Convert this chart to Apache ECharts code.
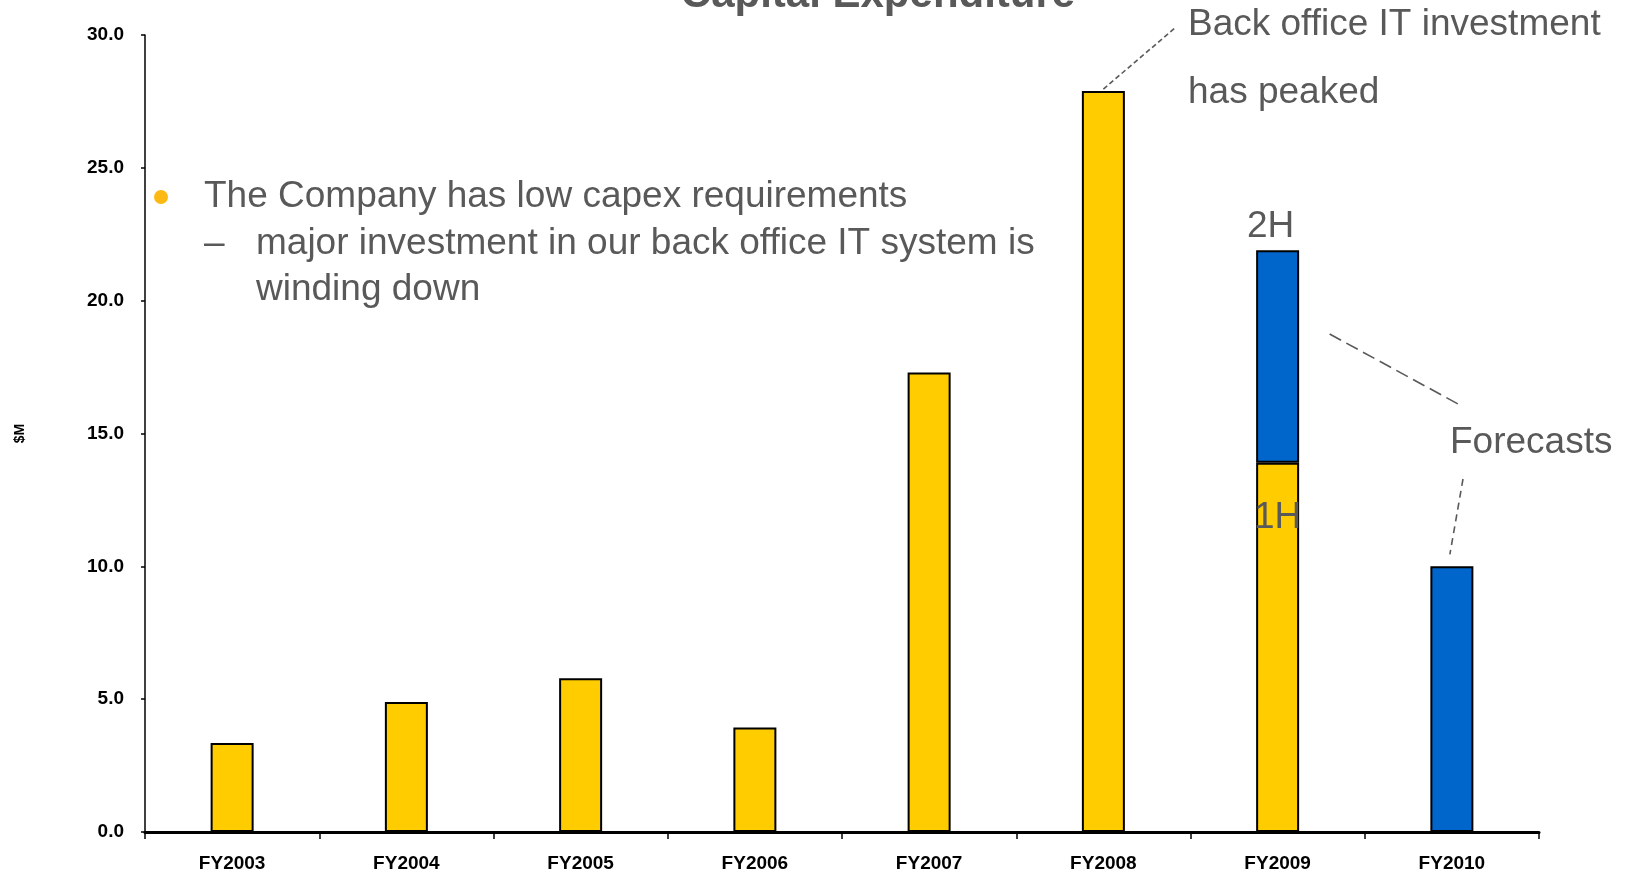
<!DOCTYPE html>
<html>
<head>
<meta charset="utf-8">
<title>Capital Expenditure</title>
<script src="https://cdn.jsdelivr.net/npm/echarts@6/dist/echarts.min.js"></script>
<style>
  html, body { margin: 0; padding: 0; background: #ffffff; }
  #chart { width: 1626px; height: 875px; }
</style>
</head>
<body>
<div id="chart"></div>
<script>
// Capital expenditure by financial year, $M
const categories = ['FY2003', 'FY2004', 'FY2005', 'FY2006', 'FY2007', 'FY2008', 'FY2009', 'FY2010'];
// Actual spend (FY2009 holds the first half only)
const actualSpend = [3.35, 4.89, 5.79, 3.93, 17.30, 27.89, 13.9, null];
// Forecast spend (FY2009 second half, FY2010 full year)
const forecastSpend = [null, null, null, null, null, null, 8.0, 10.0];
// Value axis ticks
const yTicks = [0, 5, 10, 15, 20, 25, 30];

const AXIS_FONT = '"Liberation Sans Narrow", "Liberation Sans", Arial, sans-serif';
const TEXT_FONT = '"Liberation Sans", Arial, sans-serif';
const GREY = '#595959';

const chart = echarts.init(document.getElementById('chart'), null, { renderer: 'canvas' });

chart.setOption({
  animation: false,
  backgroundColor: '#ffffff',
  grid: { left: 145, right: 87, top: 35, bottom: 43, containLabel: false },
  xAxis: {
    type: 'category',
    data: categories,
    boundaryGap: true,
    axisLine: { show: true, lineStyle: { color: '#000', width: 3 } },
    axisTick: { show: true, length: 7, lineStyle: { color: '#000', width: 1.5 } },
    axisLabel: {
      color: '#000', fontFamily: AXIS_FONT, fontWeight: 'bold', fontSize: 19, margin: 22
    },
    splitLine: { show: false }
  },
  yAxis: {
    type: 'value',
    min: yTicks[0],
    max: yTicks[yTicks.length - 1],
    interval: yTicks[1] - yTicks[0],
    name: '$M',
    nameLocation: 'middle',
    nameRotate: 90,
    nameGap: 118,
    nameTextStyle: { color: '#000', fontFamily: AXIS_FONT, fontWeight: 'bold', fontSize: 14 },
    axisLine: { show: true, lineStyle: { color: '#000', width: 1.5 } },
    axisTick: { show: true, length: 4, lineStyle: { color: '#000', width: 1.5 } },
    axisLabel: {
      color: '#000', fontFamily: AXIS_FONT, fontWeight: 'bold', fontSize: 19, margin: 21,
      formatter: v => v.toFixed(1)
    },
    splitLine: { show: false }
  },
  series: [
    {
      name: 'Actual',
      type: 'bar',
      stack: 'capex',
      data: actualSpend,
      barWidth: 43,
      itemStyle: { color: '#FFCC00', borderColor: '#000', borderWidth: 2 }
    },
    {
      name: 'Forecast',
      type: 'bar',
      stack: 'capex',
      data: forecastSpend,
      barWidth: 43,
      itemStyle: { color: '#0066CC', borderColor: '#000', borderWidth: 2 }
    }
  ]
});

// Annotations: commentary text, half-year tags and dashed call-out lines
const toPx = (cat, val) => chart.convertToPixel({ gridIndex: 0 }, [cat, val]);
const peakTop = toPx('FY2008', actualSpend[5]);
const fy09Total = actualSpend[6] + forecastSpend[6];
const fy09Top = toPx('FY2009', fy09Total);
const fy09Split = toPx('FY2009', actualSpend[6]);
const fy10Top = toPx('FY2010', forecastSpend[7]);

function label(text, x, y, opts) {
  return {
    type: 'text',
    z: 100,
    style: Object.assign({
      text: text, x: x, y: y,
      fill: GREY,
      font: '37px ' + TEXT_FONT,
      align: 'left',
      verticalAlign: 'middle'
    }, opts || {})
  };
}

function dashed(x1, y1, x2, y2, dash) {
  return {
    type: 'line',
    z: 100,
    shape: { x1: x1, y1: y1, x2: x2, y2: y2 },
    style: { stroke: GREY, lineWidth: 1.6, lineDash: dash }
  };
}

chart.setOption({
  graphic: [
    label('Capital Expenditure', 878, -5, { font: 'bold 42px ' + TEXT_FONT, align: 'center' }),
    { type: 'circle', z: 100, shape: { cx: 161, cy: 197, r: 7 }, style: { fill: '#FDB913' } },
    label('The Company has low capex requirements', 204, 197),
    label('\u2013', 204, 244),
    label('major investment in our back office IT system is', 256, 244),
    label('winding down', 256, 290),
    label('Back office IT investment', 1188, 25),
    label('has peaked', 1188, 93),
    label('2H', fy09Top[0] - 7, fy09Top[1] - 23, { align: 'center' }),
    label('1H', fy09Split[0], fy09Split[1] + 55, { align: 'center' }),
    label('Forecasts', 1450, 443),
    dashed(peakTop[0], peakTop[1] - 2, 1175, 28, [5, 3]),
    dashed(fy09Top[0] + 52, 334, 1458, 404, [13, 6]),
    dashed(1463, 479, fy10Top[0] - 2, fy10Top[1] - 12, [7, 5])
  ]
});
</script>
</body>
</html>
